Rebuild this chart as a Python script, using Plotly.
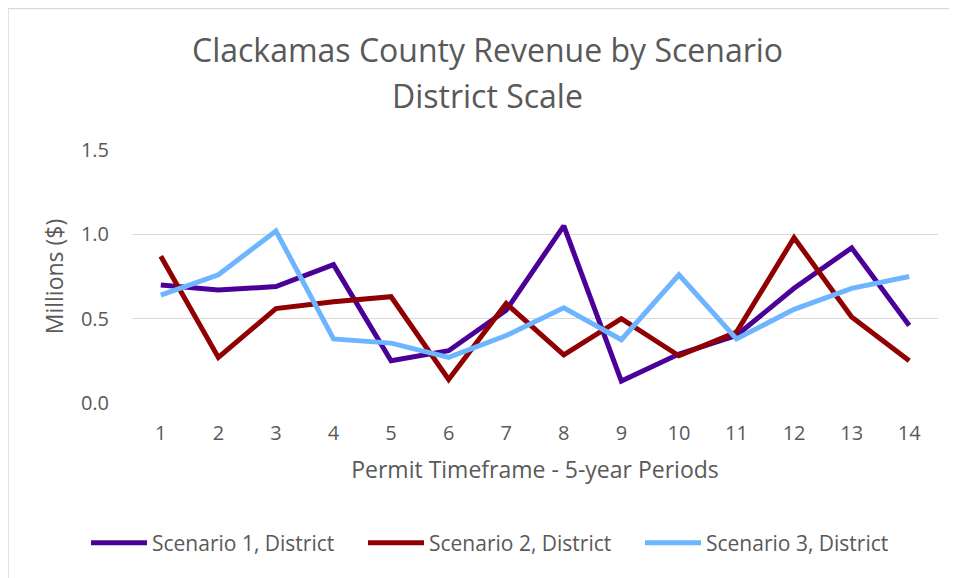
import plotly.graph_objects as go

periods = list(range(1, 15))
scenario1 = [0.70, 0.67, 0.69, 0.82, 0.25, 0.31, 0.55, 1.05, 0.13, 0.29, 0.40, 0.68, 0.92, 0.46]
scenario2 = [0.87, 0.27, 0.56, 0.60, 0.63, 0.14, 0.59, 0.285, 0.50, 0.28, 0.42, 0.98, 0.51, 0.25]
scenario3 = [0.64, 0.76, 1.02, 0.38, 0.355, 0.27, 0.40, 0.565, 0.375, 0.76, 0.38, 0.555, 0.68, 0.75]
names = ["Scenario 1, District", "Scenario 2, District", "Scenario 3, District"]
colors = ["#4B0097", "#900000", "#6DB6FF"]
y_ticks = [0.0, 0.5, 1.0, 1.5]
y_tick_text = ["0.0", "0.5", "1.0", "1.5"]
title_lines = ["Clackamas County Revenue by Scenario", "District Scale"]

FONT = "Open Sans"
GRAY = "#595959"

# page has an 8px body margin; margins compensate so the plot area sits where the reference has it
ML, MR, MT, MB = 124, 27, 142, 183
W, H = 957, 578
PW, PH = W - ML - MR, H - MT - MB

def px(xf):
    return (xf - ML) / PW

def py(yf):
    return (H - MB - yf) / PH

fig = go.Figure()
for vals, name, col in zip([scenario1, scenario2, scenario3], names, colors):
    fig.add_trace(go.Scatter(x=periods, y=vals, mode="lines", name=name,
                             line=dict(color=col, width=5)))

fig.update_layout(
    width=W, height=H, autosize=False,
    margin=dict(l=ML, r=MR, t=MT, b=MB),
    paper_bgcolor="white", plot_bgcolor="white",
    font=dict(family=FONT, color=GRAY),
    xaxis=dict(range=[0.5, 14.5], tickmode="array", tickvals=periods,
               ticktext=[str(p) for p in periods], showgrid=False, zeroline=False,
               showline=False, ticks="", tickfont=dict(size=20, color=GRAY),
               ticklabelstandoff=16,
               title=dict(text="Permit Timeframe - 5-year Periods",
                          font=dict(size=23, color=GRAY), standoff=16)),
    yaxis=dict(range=[0, 1.5], tickmode="array", tickvals=y_ticks, ticktext=y_tick_text,
               showgrid=True, gridcolor="#D9D9D9", gridwidth=1.3, zeroline=False,
               showline=False, ticks="", tickfont=dict(size=20, color=GRAY),
               ticklabelstandoff=22,
               title=dict(text="Millions ($)", font=dict(size=23, color=GRAY), standoff=10)),
    legend=dict(orientation="h", x=px(78), xanchor="left", y=py(535), yanchor="middle",
                font=dict(size=21, color=GRAY), itemwidth=56, traceorder="normal",
                entrywidth=206, entrywidthmode="pixels"),
    showlegend=True,
)

for txt, yc in zip(title_lines, [41, 88]):
    fig.add_annotation(text=txt, xref="paper", yref="paper", x=px(479), y=py(yc),
                       xanchor="center", yanchor="middle", showarrow=False,
                       font=dict(size=32, color=GRAY, family=FONT))

fig.add_shape(type="rect", xref="paper", yref="paper",
              x0=px(0), x1=px(948), y0=py(H + 20), y1=py(0.5),
              line=dict(color="#D9D9D9", width=1.5), fillcolor="rgba(0,0,0,0)", layer="below")

fig.write_html("out.html")
